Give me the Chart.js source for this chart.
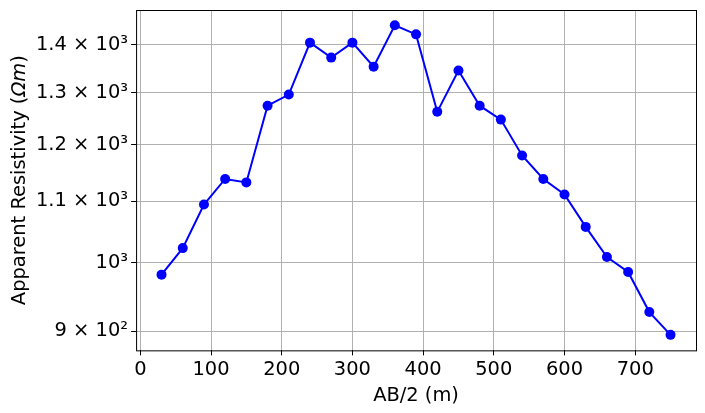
<!DOCTYPE html>
<html>
<head>
<meta charset="utf-8">
<script src="https://cdn.jsdelivr.net/npm/chart.js@4/dist/chart.umd.min.js"></script>
<style>
  html, body { margin: 0; padding: 0; background: #fff; }
  #wrap { width: 705px; height: 413px; }
</style>
</head>
<body>
<div id="wrap"><canvas id="chart"></canvas></div>
<script>
const FONT = 'DejaVu Sans';
const FONT_SIZE = 19.44;
const LINE_COLOR = '#0000ff';
const GRID_COLOR = '#b0b0b0';

const spacing = [30, 60, 90, 120, 150, 180, 210, 240, 270, 300, 330, 360, 390,
                 420, 450, 480, 510, 540, 570, 600, 630, 660, 690, 720, 750];
const resistivity = [982, 1023, 1094, 1138, 1132, 1274, 1296, 1404, 1372, 1404, 1353, 1442, 1422,
                     1262, 1345, 1274, 1247, 1180, 1138, 1111, 1057, 1009, 986, 927, 895];
const yTicks = [900, 1000, 1100, 1200, 1300, 1400];
const yTickLabels = ['9 × 10²', '10³', '1.1 × 10³', '1.2 × 10³', '1.3 × 10³', '1.4 × 10³'];
const xTicks = [0, 100, 200, 300, 400, 500, 600, 700];
const yTitleParts = [['Apparent Resistivity (', false], ['Ωm', true], [')', false]];

// full black box around the axes, like matplotlib
const framePlugin = {
    id: 'frame',
    afterDraw(chart) {
        const { ctx, chartArea: a } = chart;
        ctx.save();
        ctx.strokeStyle = '#000';
        ctx.lineWidth = 1;
        ctx.strokeRect(a.left + 0.5, a.top + 0.5, a.right - a.left, a.bottom - a.top);
        ctx.restore();
    }
};

// y title with the unit in italics
const yTitlePlugin = {
    id: 'yTitle',
    afterDraw(chart) {
        const { ctx, chartArea: a } = chart;
        const fontFor = it => (it ? 'italic ' : '') + FONT_SIZE + 'px "' + FONT + '"';
        let total = 0;
        for (const [txt, it] of yTitleParts) {
            ctx.font = fontFor(it);
            total += ctx.measureText(txt).width;
        }
        ctx.save();
        ctx.translate(20, (a.top + a.bottom) / 2);
        ctx.rotate(-Math.PI / 2);
        ctx.fillStyle = '#000';
        ctx.textBaseline = 'middle';
        ctx.textAlign = 'left';
        let x = -total / 2;
        for (const [txt, it] of yTitleParts) {
            ctx.font = fontFor(it);
            ctx.fillText(txt, x, 0);
            x += ctx.measureText(txt).width;
        }
        ctx.restore();
    }
};

new Chart(document.getElementById('chart'), {
    type: 'line',
    data: {
        datasets: [{
            data: spacing.map((x, i) => ({ x: x, y: resistivity[i] })),
            borderColor: LINE_COLOR,
            backgroundColor: LINE_COLOR,
            borderWidth: 2,
            pointRadius: 5,
            pointBorderWidth: 0,
            pointHoverRadius: 5,
            tension: 0
        }]
    },
    plugins: [framePlugin, yTitlePlugin],
    options: {
        responsive: true,
        maintainAspectRatio: false,
        animation: false,
        layout: { padding: { top: 10, right: 9, bottom: 5, left: 33 } },
        scales: {
            x: {
                type: 'linear',
                min: -6,
                max: 786,
                afterBuildTicks: axis => { axis.ticks = xTicks.map(v => ({ value: v })); },
                grid: { color: GRID_COLOR, tickColor: '#000', tickLength: 5, lineWidth: 1 },
                border: { display: false },
                ticks: { color: '#000', font: { family: FONT, size: FONT_SIZE }, padding: 3, maxRotation: 0 },
                title: { display: true, text: 'AB/2 (m)', color: '#000', font: { family: FONT, size: FONT_SIZE }, padding: { top: 0, bottom: 0 } }
            },
            y: {
                type: 'logarithmic',
                min: 873.9,
                max: 1476.4,
                afterBuildTicks: axis => { axis.ticks = yTicks.map(v => ({ value: v })); },
                afterFit: axis => { axis.paddingTop = 0; axis.paddingBottom = 0; },
                grid: { color: GRID_COLOR, tickColor: '#000', tickLength: 5, lineWidth: 1 },
                border: { display: false },
                ticks: {
                    color: '#000',
                    font: { family: FONT, size: FONT_SIZE },
                    padding: 3,
                    callback: function(value) {
                        const i = yTicks.indexOf(value);
                        return i >= 0 ? yTickLabels[i] : '';
                    }
                },
                title: { display: false }
            }
        },
        plugins: {
            legend: { display: false },
            tooltip: { enabled: false }
        }
    }
});
</script>
</body>
</html>
